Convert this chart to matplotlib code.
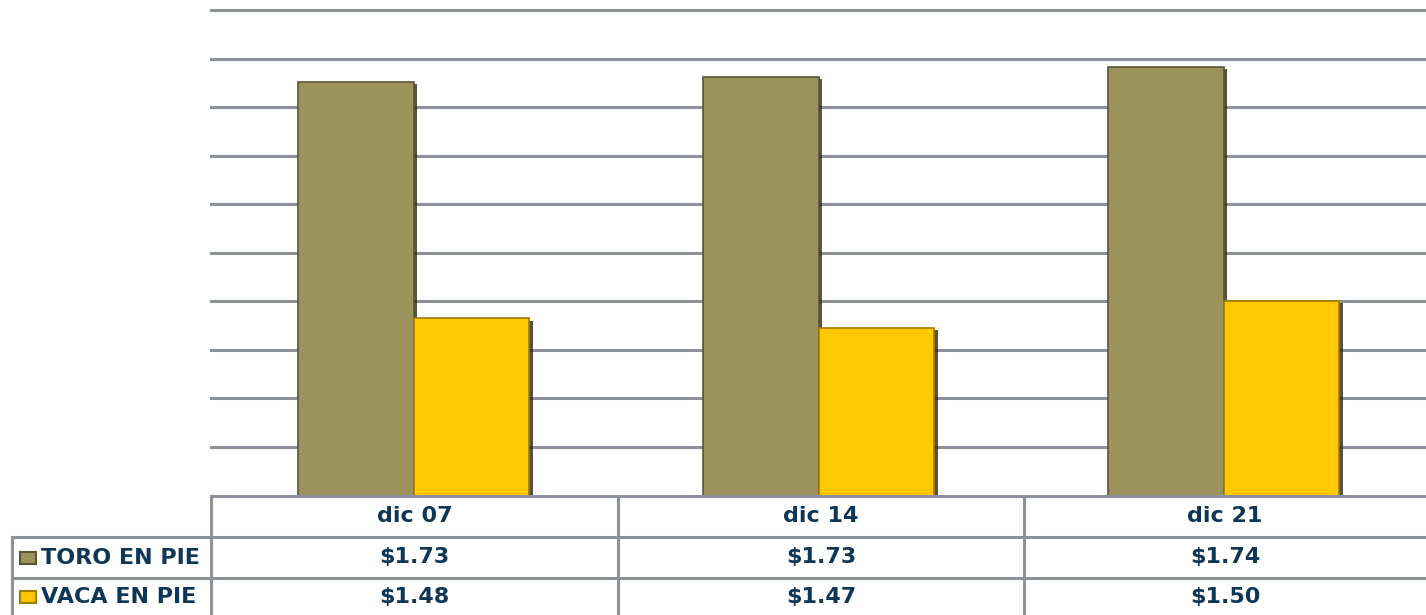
import numpy as np
import matplotlib.pyplot as plt
import matplotlib.patheffects as pe
from matplotlib.patches import Rectangle

# datos
fechas = ['dic 07', 'dic 14', 'dic 21']
series = ['TORO EN PIE', 'VACA EN PIE']
toro = [1.726, 1.731, 1.741]
vaca = [1.482, 1.472, 1.500]
colores = ['#9c935c', '#ffc800']
bordes = ['#5a5535', '#a07c00']
texto_color = '#0e3657'

W, H = 1426, 615
fig = plt.figure(figsize=(W / 100, H / 100), dpi=100)

# area de barras (en pixeles de la figura)
x0, x1, ytop, ybot = 211, 1426, 10, 495
ax = fig.add_axes([x0 / W, 1 - ybot / H, (x1 - x0) / W, (ybot - ytop) / H])
x = np.arange(len(fechas))
w = 0.286
for k, vals in enumerate([toro, vaca]):
    ax.bar(x + (k - 0.5) * w, vals, width=w, color=colores[k],
           edgecolor=bordes[k], linewidth=1.2, zorder=3,
           path_effects=[pe.SimplePatchShadow(offset=(2.5, -1.5), shadow_rgbFace='#2a2818', alpha=0.8),
                         pe.Normal()])
ax.set_xlim(-0.5, len(fechas) - 0.5)
ax.set_ylim(1.30, 1.80)
ax.set_yticks(np.arange(1.35, 1.801, 0.05))
ax.yaxis.grid(True, color='#8c919c', linewidth=2.2, zorder=0)
for gl in ax.get_ygridlines():
    gl.set_clip_on(False)
ax.set_xticks([])
ax.tick_params(left=False, labelleft=False)
for s in ax.spines.values():
    s.set_visible(False)

# tabla de datos
tb = fig.add_axes([0, 0, 1, 1], zorder=-1)
tb.set_xlim(0, W)
tb.set_ylim(H, 0)
tb.axis('off')
lc = '#8c919c'
lw = 2.2
cols = [211, 618, 1024, 1426]
rows = [496, 537, 578, 616]
tb.plot([cols[0], cols[-1]], [rows[0], rows[0]], color=lc, lw=lw)
for yy in rows[1:3]:
    tb.plot([12, cols[-1]], [yy, yy], color=lc, lw=lw)
tb.plot([12, 12], [rows[1], rows[-1]], color=lc, lw=lw)
for xx in cols[:-1]:
    tb.plot([xx, xx], [rows[0], rows[-1]], color=lc, lw=lw)

fuente = dict(fontsize=16, fontweight='bold', color=texto_color,
              family='DejaVu Sans', va='center')
for j, f in enumerate(fechas):
    cx = (cols[j] + cols[j + 1]) / 2
    tb.text(cx, (rows[0] + rows[1]) / 2, f, ha='center', **fuente)
    tb.text(cx, (rows[1] + rows[2]) / 2, f'${toro[j]:.2f}', ha='center', **fuente)
    tb.text(cx, (rows[2] + rows[3]) / 2, f'${vaca[j]:.2f}', ha='center', **fuente)
for i, s in enumerate(series):
    yc = (rows[i + 1] + rows[i + 2]) / 2
    tb.add_patch(Rectangle((20, yc - 6), 16, 12, facecolor=colores[i],
                           edgecolor=bordes[i], lw=1.5))
    tb.text(41, yc, s, ha='left', **fuente)

fig.savefig('out.png', dpi=100)
